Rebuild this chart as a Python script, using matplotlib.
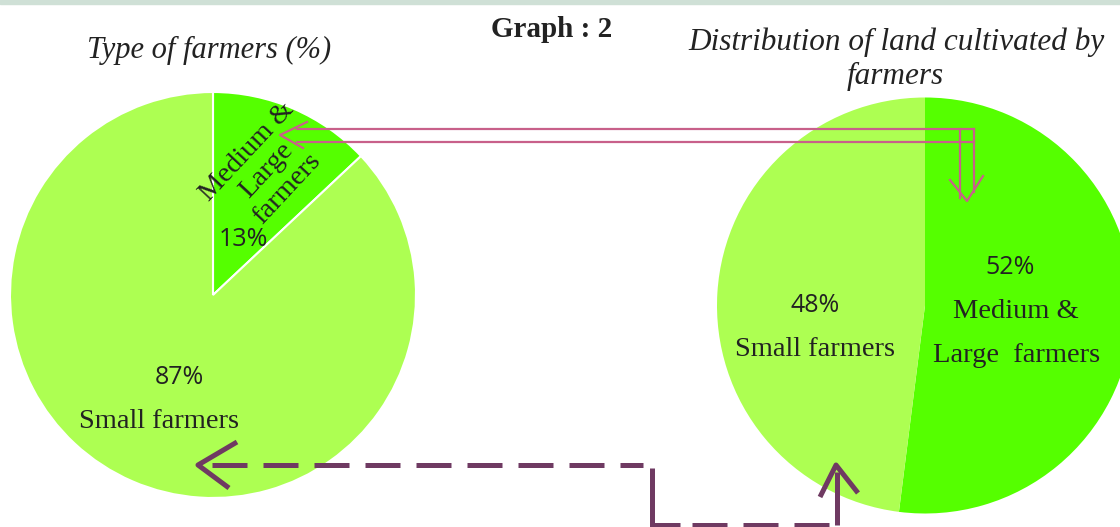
import matplotlib.pyplot as plt

# data
farmer_types = ["Medium & Large farmers", "Small farmers"]
share_of_farmers = [13, 87]
share_of_land = [52, 48]

dark_green = "#55ff00"
light_green = "#adff52"
pink = "#c8608a"
purple = "#6f3a62"
H = 527  # figure height in px, used to flip y

fig = plt.figure(figsize=(11.2, 5.27), dpi=100)
ax = fig.add_axes([0, 0, 1, 1])

# left pie: type of farmers
ax.pie(share_of_farmers, colors=[dark_green, light_green], startangle=90,
       counterclock=False, center=(213, H - 295), radius=203,
       wedgeprops=dict(edgecolor="white", linewidth=1.5))

# right pie: land cultivated
ax.pie(share_of_land, colors=[dark_green, light_green], startangle=90,
       counterclock=False, center=(925, H - 305.5), radius=208,
       wedgeprops=dict(linewidth=0))

ax.set_xlim(0, 1120)
ax.set_ylim(0, H)
ax.set_aspect("auto")
ax.axis("off")

# thin band on top
ax.axhspan(H - 4, H, color="#cfe0d6", zorder=0)

serif = "Liberation Serif"
sans = "Open Sans"
txt = "#222222"

# titles
ax.text(552, H - 37, "Graph : 2", family=serif, weight="bold", fontsize=21,
        ha="center", va="baseline", color=txt)
ax.text(209, H - 58, "Type of farmers (%)", family=serif, style="italic",
        fontsize=22, ha="center", va="baseline", color=txt)
ax.text(896, H - 50, "Distribution of land cultivated by", family=serif,
        style="italic", fontsize=22.5, ha="center", va="baseline", color=txt)
ax.text(895, H - 84, "farmers", family=serif, style="italic", fontsize=22.5,
        ha="center", va="baseline", color=txt)

# left pie labels
ax.text(243, H - 239, f"{share_of_farmers[0]}%", family=sans, fontsize=18,
        ha="center", va="center", color=txt)
ax.text(267, H - 170, "Medium &\nLarge\nfarmers", family=serif, fontsize=20.5,
        rotation=47, rotation_mode="anchor", ha="center", va="center",
        multialignment="center", linespacing=1.12, color=txt)
ax.text(179, H - 378, f"{share_of_farmers[1]}%", family=sans, fontsize=18,
        ha="center", va="center", color=txt)
ax.text(159, H - 422, "Small farmers", family=serif, fontsize=20.5,
        ha="center", va="center", color=txt)

# right pie labels
ax.text(815, H - 305, f"{share_of_land[1]}%", family=sans, fontsize=18,
        ha="center", va="center", color=txt)
ax.text(815, H - 350, "Small farmers", family=serif, fontsize=20.5,
        ha="center", va="center", color=txt)
ax.text(1010, H - 268, f"{share_of_land[0]}%", family=sans, fontsize=18,
        ha="center", va="center", color=txt)
ax.text(1016, H - 312, "Medium &", family=serif, fontsize=20.5,
        ha="center", va="center", color=txt)
ax.text(1017, H - 355, "Large  farmers", family=serif, fontsize=20.5,
        ha="center", va="center", color=txt)

# pink double-line arrow linking the medium & large groups
lw_p = 1.6
ax.plot([297, 974], [H - 129, H - 129], color=pink, lw=lw_p)
ax.plot([297, 974], [H - 142, H - 142], color=pink, lw=lw_p)
ax.plot([960, 960], [H - 129, H - 198], color=pink, lw=lw_p)
ax.plot([974, 974], [H - 129, H - 192], color=pink, lw=lw_p)
ax.plot([950, 967, 983], [H - 180, H - 201, H - 176], color=pink, lw=lw_p)
ax.plot([307, 280, 303], [H - 122, H - 135, H - 148], color=pink, lw=lw_p)

# purple dashed arrow linking the small farmers
lw_d = 3.6
ax.plot([212, 643], [H - 465, H - 465], color=purple, lw=lw_d,
        dashes=(7, 3.2), solid_capstyle="butt", dash_capstyle="butt")
ax.plot([652, 652, 680], [H - 468, H - 525, H - 525], color=purple, lw=lw_d,
        solid_capstyle="butt", solid_joinstyle="miter")
ax.plot([692, 837], [H - 525, H - 525], color=purple, lw=lw_d,
        dashes=(7, 3.2), dash_capstyle="butt")
ax.plot([837, 837], [H - 525, H - 472], color=purple, lw=lw_d,
        solid_capstyle="butt")
ax.plot([820, 836, 858], [H - 497, H - 465, H - 493], color=purple, lw=lw_d,
        solid_capstyle="butt")
ax.plot([237, 198, 229], [H - 442, H - 465, H - 488], color=purple, lw=lw_d,
        solid_capstyle="butt")

fig.savefig("out.png", dpi=100)
